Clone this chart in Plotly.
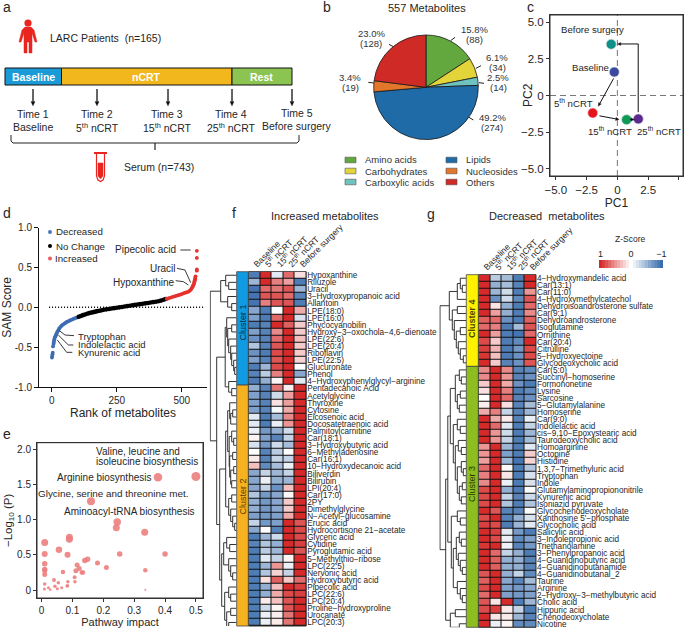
import math
import plotly.graph_objects as go

W, H = 685, 628
FONT = "Liberation Sans, Arial, sans-serif"
INK = "#262626"

# ---------- panel b ----------
PIE_LABELS = ["Amino acids", "Carbohydrates", "Carboxylic acids", "Lipids", "Nucleosides", "Others"]
PIE_VALUES = [88, 34, 14, 274, 19, 128]
PIE_COLORS = ["#62a83e", "#e3d43a", "#6fc2bf", "#1f6ba8", "#e2762a", "#cf2a26"]
PIE_PCT = ["15.8%", "6.1%", "2.5%", "49.2%", "3.4%", "23.0%"]
PIE_N = ["(88)", "(34)", "(14)", "(274)", "(19)", "(128)"]

# ---------- panel c ----------
PCA_NAMES = ["Baseline", "5th nCRT", "15th nCRT", "25th nCRT", "Before surgery"]
PC1 = [-0.25, -2.0, 0.75, 1.7, -0.5]
PC2 = [1.6, -1.2, -1.65, -1.6, 3.5]
PCA_COLORS = ["#3b4a9e", "#e8141c", "#0e9a55", "#5b2a8f", "#0e8f8a"]

# ---------- panel d ----------
DEC_RANK = [1, 2, 3, 4, 5, 7, 8, 9, 10, 12, 14, 16, 18, 20, 22, 25, 28, 30, 34, 38, 42, 46, 50, 55, 60, 65, 70, 75, 80, 85, 90, 95, 100]
DEC_SCORE = [-0.63, -0.61, -0.59, -0.57, -0.49, -0.46, -0.44, -0.42, -0.40, -0.38, -0.365, -0.35, -0.335, -0.32, -0.305, -0.29, -0.27, -0.26, -0.245, -0.23, -0.22, -0.21, -0.20, -0.19, -0.18, -0.172, -0.165, -0.157, -0.15, -0.142, -0.135, -0.13, -0.125]
NC_RANK = [104, 112, 120, 128, 136, 144, 152, 160, 168, 176, 184, 192, 200, 210, 220, 230, 240, 250, 260, 270, 280, 290, 300, 310, 320, 330, 340, 350, 360, 370, 380, 390, 400, 410, 420, 430, 438]
NC_SCORE = [-0.118, -0.108, -0.098, -0.09, -0.08, -0.072, -0.066, -0.06, -0.054, -0.047, -0.042, -0.036, -0.03, -0.025, -0.02, -0.015, -0.01, -0.005, 0.0, 0.005, 0.01, 0.016, 0.021, 0.026, 0.031, 0.036, 0.04, 0.045, 0.05, 0.055, 0.06, 0.066, 0.071, 0.077, 0.085, 0.095, 0.105]
INC_RANK = [442, 448, 454, 460, 466, 472, 478, 484, 490, 496, 502, 508, 514, 520, 526, 530, 534, 537, 540, 542, 544, 546, 548, 549, 550, 551, 552, 553, 558, 558, 558, 558]
INC_SCORE = [0.108, 0.113, 0.12, 0.126, 0.132, 0.138, 0.145, 0.15, 0.156, 0.162, 0.17, 0.178, 0.184, 0.19, 0.198, 0.207, 0.22, 0.232, 0.25, 0.262, 0.275, 0.29, 0.31, 0.325, 0.34, 0.355, 0.37, 0.39, 0.46, 0.475, 0.62, 0.71]

# ---------- panel e ----------
IMPACT = [0.5, 0.377, 0.16, 0.245, 0.242, 0.334, 0.09, 0.09, 0.01, 0.056, 0.01, 0.084, 0.253, 0.4, 0.01, 0.01, 0.01, 0.01, 0.149, 0.14, 0.181, 0.115, 0.21, 0.122, 0.111, 0.13, 0.134, 0.069, 0.336, 0.107, 0.04, 0.054, 0.085, 0.108, 0.01, 0.043, 0.084, 0.082, 0.065, 0.051, 0.022, 0.028, 0.009, 0.336]
LOGP = [1.61, 1.6, 1.26, 0.965, 0.885, 0.82, 0.75, 0.72, 0.675, 0.57, 0.51, 0.5, 0.51, 0.51, 0.373, 0.293, 0.275, 0.222, 0.435, 0.42, 0.383, 0.355, 0.32, 0.307, 0.274, 0.25, 0.25, 0.255, 0.279, 0.18, 0.142, 0.104, 0.118, 0.118, 0.085, 0.052, 0.06, 0.057, 0.033, 0.019, 0.033, 0.005, 0.014, 0.005]
DOT_SIZE = [9, 8.5, 8, 7.5, 7, 7, 7, 7, 7, 6.5, 6, 6, 5.5, 5.5, 5.5, 5.5, 5, 5, 5.5, 5.5, 5, 5, 5, 5, 5, 4.5, 4.5, 4.5, 4.5, 4, 4, 3.5, 3.5, 3.5, 3.5, 3.5, 3.5, 3, 3, 3, 3, 2.5, 3, 2]

# ---------- panels f, g ----------
HEAT_COLS = ["Baseline", "5<sup>th</sup> nCRT", "15<sup>th</sup> nCRT", "25<sup>th</sup> nCRT", "Before surgery"]
F_ROWS = ["Hypoxanthine", "Riluzole", "Uracil", "3−Hydroxypropanoic acid", "Allantoin", "LPE(18:0)", "LPE(16:0)", "Phycocyanobilin",
          "Hydroxy−3−oxochola−4,6−dienoate", "LPE(22:6)", "LPE(20:4)", "Riboflavin", "LPE(22:5)", "Glucuronate", "Phenol",
          "4−Hydroxyphenylglycyl−arginine", "Pentadecanoic Acid", "Acetylglycine", "Thyroxine", "Cytosine", "Eicosenoic acid",
          "Docosatetraenoic acid", "Palmitoylcarnitine", "Car(18:1)", "3−Hydroxybutyric acid", "6−Methyladenosine", "Car(16:1)",
          "10−Hydroxydecanoic acid", "Biliverdin", "Bilirubin", "LPI(20:4)", "Car(17:0)", "2PY", "Dimethylglycine",
          "N−Acetyl−glucosamine", "Erucic acid", "Hydrocortisone 21−acetate", "Glyceric acid", "Cytidine", "Pyroglutamic acid",
          "5−Methylthio−ribose", "LPC(22:5)", "Nervonic acid", "Hydroxybutyric acid", "Pipecolic acid", "LPC(22:6)", "LPC(20:4)",
          "Proline−hydroxyproline", "Urocanate", "LPC(20:3)"]
F_VALUES = [
    [-.9, 1, -.15, .7, .15], [-.5, 1, .6, .45, -.9], [-.95, .7, .65, .8, -.5], [-.95, .8, .8, .7, -.85], [-.95, .6, .8, .8, -.9],
    [-.6, -.9, 0, 1, .4], [-.65, -.9, .7, 1, -.2], [-.9, -.85, 1, .75, .25], [-.65, -.85, .55, 1, .25], [-.75, -.85, .7, 1, .3],
    [-.4, -.85, .8, 1, .25], [-.75, -.9, .85, 1, .25], [-.65, -.85, .8, 1, .2], [-.9, -.5, .85, 1, 0], [-.85, -.35, .6, 1, -.6],
    [-.9, -.55, .05, 1, -.15], [-.55, -.85, .65, .08, 1], [-.65, -.85, -.25, .45, 1], [-.65, -.85, .15, .45, 1], [-.65, -.85, -.05, .4, 1],
    [-.15, -.9, -.45, .55, 1], [-.15, -.9, -.1, .5, 1], [-.1, -.7, -.55, -.25, 1], [.05, -.65, -.85, -.3, 1], [-.2, -.7, -.25, -.45, 1],
    [0, -.85, -.35, 0, 1], [.1, -.85, -.3, -.3, 1], [.3, -.8, -.45, -.1, 1], [-.6, -.3, -.5, -.3, 1], [-.6, -.1, -.55, -.5, 1],
    [-.6, -.3, -.75, .3, 1], [-.4, -.7, -.6, .03, 1], [-.55, -.7, -.6, .25, 1], [-.55, -.7, -.6, .25, 1], [-.65, -.7, -.65, .4, 1],
    [-.3, -.7, -.65, 1, .8], [-.6, 0, -.85, 1, .85], [-.9, -.5, -.25, 1, .85], [-.85, -.4, -.55, 1, .9], [-.9, -.35, -.5, 1, .8],
    [-.9, -.15, -.3, .05, 1], [-.9, -.5, .5, -.1, 1], [-.9, -.4, .2, -.3, 1], [-.9, .15, .75, .25, .7], [-.9, -.55, .3, 1, .9],
    [-.9, -.55, .4, .85, .9], [-.9, .1, .3, .8, 1], [-.9, -.25, .05, .8, 1], [-.9, -.1, .08, .65, 1], [-.9, -.1, .1, .65, 1]]
G_ROWS = ["4−Hydroxymandelic acid", "Car(13:1)", "Car(11:0)", "4−Hydroxymethylcatechol", "Dehydroisoandrosterone sulfate", "Car(9:1)",
          "Dehydroandrosterone", "Isoglutamine", "Ornithine", "Car(20:4)", "Citrulline", "5−Hydroxyectoine", "Glycodeoxycholic acid",
          "Car(5:0)", "Succinyl−homoserine", "Formononetine", "Lysine", "Sarcosine", "5−Glutamylalanine", "Homoserine", "Car(9:0)",
          "Indolelactic acid", "cis−9,10−Epoxystearic acid", "Taurodeoxycholic acid", "Homoarginine", "Octopine", "Histidine",
          "1,3,7−Trimethyluric acid", "Tryptophan", "Indole", "Glutamylaminopropiononitrile", "Kynurenic acid", "Isoniazid pyruvate",
          "Glycochenodeoxycholate", "Xanthosine 5'−phosphate", "Glycocholic acid", "Salicylic acid", "3−Indolepropionic acid",
          "Triethanolamine", "3−Phenylpropanoic acid", "4−Guanidinobutyric acid", "4−Guanidinobutanamide", "4−Guanidinobutanal_2",
          "Taurine", "Arginine", "2−Hydroxy−3−methylbutyric acid", "Cholic acid", "Hippuric acid", "Chenodeoxycholate", "Nicotine"]
G_VALUES = [
    [1, -.35, -.45, -.9, 1], [1, -.55, -.45, -.85, 1], [1, -.5, -.25, -.9, .5], [1, -.75, -.25, -.8, .8], [1, .12, -.55, -.9, .7],
    [1, .45, -.55, -.9, .55], [.75, .7, -.75, -.9, .75], [.7, .6, -.9, -.45, .8], [1, .45, -.9, -.95, .7], [.85, .25, -.9, -.8, 1],
    [.9, .35, -.9, -.7, .85], [.95, .3, -.9, -.75, .85], [1, .25, -.85, -.75, .8], [.55, 1, .55, -.85, -.8], [.55, 1, .5, -.85, -.75],
    [.25, 1, .4, -.75, -.9], [.15, 1, .6, -.9, -.8], [0, 1, .7, -.85, -.75], [.08, 1, .15, -.85, -.45], [.4, .6, -.3, -.85, -.5],
    [1, .4, .1, -.85, -.1], [1, .7, -.15, -.9, -.3], [1, .5, -.25, -.9, -.5], [1, .5, -.3, -.9, -.45], [.5, 1, -.5, -.9, -.15],
    [.5, 1, -.65, -.9, .25], [.45, 1, -.5, -.95, .2], [.7, 1, .03, -.9, -.4], [.6, 1, .12, -.9, -.2], [.55, 1, -.1, -.9, -.2],
    [.85, 1, -.55, -.9, 0], [.85, 1, -.3, -.85, -.25], [.85, 1, -.4, -.9, -.4], [1, .8, -.85, -.85, -.03], [.85, 1, -.85, -.55, -.2],
    [.9, .85, -.9, -.5, -.15], [1, .9, -.15, -.7, -.9], [1, .85, -.1, -.8, -.65], [.95, 1, -.08, -.85, -.7], [1, .7, -.3, -.55, -.9],
    [1, .75, -.55, -.55, -.85], [1, .75, -.55, -.55, -.85], [.8, 1, -.55, -.3, -.8], [.75, 1, -.6, -.85, -.45], [.85, 1, -.65, -.7, -.6],
    [.7, 1, -.65, -.7, -.65], [.8, .12, 1, -.9, -.5], [.85, .9, .1, -.3, -.9], [1, .12, .1, -.5, -.85], [1, -.1, .05, -.8, -.8]]

# dendrograms: (height, child, child); 0 is a leaf
F_TREE = (26.5,
          (16, (11, 0, (8, 0, 0)), (9, 0, (5, 0, 0))),
          (20,
           (11.5, (10, 0, (9, (5, 0, 0), (8, 0, (6, 0, (5, 0, (3, 0, (2, 0, 0))))))), (8, 0, (5, 0, 0))),
           (17,
            (11, (9, (7, 0, (6, (4, 0, 0), 0)), (7.5, (5, 0, (3, 0, 0)), (7, (4, 0, 0), (6, (3, 0, 0), (5, 0, 0))))),
             (8, (5, 0, 0), (6, 0, (4, 0, (2, 0, 0))))),
            (15, (13, (10, 0, (7, 0, 0)), (8, 0, (6, 0, (4, 0, 0)))),
             (12, (8, 0, (6, 0, 0)), (10, (6, 0, 0), (8, 0, (5, 0, (3, 0, 0)))))))))
G_TREE = (26.3,
          (17, (9, (6, 0, (4, 0, 0)), 0),
           (14, (9, 0, 0), (12, 0, (10, (6, 0, 0), (8, 0, (6, 0, (3, 0, 0))))))),
          (20.6,
           (18.5,
            (16, (11, (7, 0, (5, 0, 0)), (9, (6, 0, 0), (7, 0, 0))),
             (13, (9, 0, (6, 0, 0)), (11, (8, 0, (5, 0, 0)), (9, (5, 0, (3, 0, 0)), (7, (4, 0, 0), (5, 0, 0)))))),
            (15, (9, 0, (6, 0, 0)),
             (13, (10, (7, 0, (5, 0, 0)), (8, 0, (6, 0, (4, 0, 0)))), (9, 0, (6, 0, (4, 0, 0)))))),
           (16, (11, 0, 0), (7, 0, 0))))
ZSCORE_TICKS = [1, 0, -1]
ZSCORE_STEPS = [1, .9, .8, .7, .6, .5, .4, .3, .2, .1, 0, -.1, -.2, -.3, -.4, -.5, -.6, -.7, -.8, -.9, -1]
HEAT_SCALE = [[0, "#3a6dad"], [0.5, "#ffffff"], [1, "#d62a2a"]]

# ---------- helpers ----------
X = lambda x: x / W
Y = lambda y: 1 - y / H
DX = lambda a, b: [a / W, b / W]
DY = lambda top, bottom: [1 - bottom / H, 1 - top / H]
CX = lambda v: 617.3 + 12.3 * v
CY = lambda v: 95.3 - 14.67 * v
shapes, notes = [], []


def text(x, y, s, size=9, anchor="center", angle=0, color=INK, bold=False):
    notes.append(dict(x=X(x), y=Y(y), xref="paper", yref="paper", text=f"<b>{s}</b>" if bold else s, showarrow=False,
                      xanchor=anchor, yanchor="middle", textangle=angle, align="center",
                      font=dict(size=size, color=color, family=FONT)))


def rect(x0, y0, x1, y1, fill, line="#111111", width=1, layer="above"):
    shapes.append(dict(type="rect", xref="paper", yref="paper", x0=X(x0), x1=X(x1), y0=Y(y0), y1=Y(y1),
                       fillcolor=fill, line=dict(color=line, width=width), layer=layer))


def poly(points, color=INK, width=1, fill=None, close=False):
    d = "M" + " L".join(f"{X(a):.5f},{Y(b):.5f}" for a, b in points) + (" Z" if close else "")
    s = dict(type="path", xref="paper", yref="paper", path=d, line=dict(color=color, width=width))
    if fill:
        s["fillcolor"] = fill
    shapes.append(s)


def arrow(x0, y0, x1, y1, width=1.3, head=4.5):
    length = math.hypot(x1 - x0, y1 - y0)
    ux, uy = (x1 - x0) / length, (y1 - y0) / length
    bx, by = x1 - ux * head, y1 - uy * head
    half = head * 0.45
    poly([(x0, y0), (bx, by)], "#111111", width)
    poly([(x1, y1), (bx - uy * half, by + ux * half), (bx + uy * half, by - ux * half)], "#111111", 0.3, fill="#111111", close=True)


def tree_lines(node):
    xs, ys = [], []
    row = [0]

    def walk(n):
        if n == 0:
            row[0] += 1
            return row[0] - 1, 0
        h, a, b = n
        ya, ha = walk(a)
        yb, hb = walk(b)
        xs.extend([ha, h, h, hb, None])
        ys.extend([ya, ya, yb, yb, None])
        return (ya + yb) / 2, h

    walk(node)
    return xs, ys


fig = go.Figure()

# ---------- panel a ----------
text(7, 7, "a", 14)
poly([(19, 42), (22, 30), (25, 27), (31, 27), (34, 30), (37, 42), (35, 42), (32, 33), (32, 53), (29, 53), (29, 42), (27, 42),
      (27, 53), (24, 53), (24, 33), (21, 42)], color="#e8251f", width=0.5, fill="#e8251f", close=True)
shapes.append(dict(type="circle", xref="paper", yref="paper", x0=X(24.4), x1=X(31.6), y0=Y(19.4), y1=Y(26.6),
                   fillcolor="#e8251f", line=dict(width=0)))
text(48, 38, "LARC Patients  (n=165)", 10.5, "left")
rect(5, 68, 61.5, 85, "#1a9bd7")
rect(61.5, 68, 232, 85, "#f2b71d")
rect(232, 68, 292, 85, "#8cc452")
text(33, 77, "Baseline", 10.5, color="white", bold=True)
text(146, 77, "nCRT", 10.5, color="white", bold=True)
text(261, 77, "Rest", 10.5, color="white", bold=True)
for ax_x in [33, 97, 168, 232, 292]:
    arrow(ax_x, 89, ax_x, 106)
for cx, a, b, dy in [(33, "Time 1", "Baseline", 0), (97, "Time 2", "5<sup>th</sup> nCRT", 0), (167, "Time 3", "15<sup>th</sup> nCRT", 0),
                     (231, "Time 4", "25<sup>th</sup> nCRT", 0), (297, "Time 5", "Before surgery", -1)]:
    text(cx, 114 + dy, a, 10.5)
    text(cx, 127 + dy, b, 10.5)
poly([(11, 135), (11, 141), (13, 143), (297, 143), (299, 141), (299, 135)], "#222222", 1)
poly([(155, 143), (155, 150)], "#222222", 1.2)
text(122, 167, "Serum (n=743)", 10.5, "left")
poly([(94, 153), (107, 153)], "#e8251f", 2)
poly([(96.5, 153), (96.5, 176), (98, 180), (100.5, 181.5), (103, 180), (104.5, 176), (104.5, 153)], "#e8251f", 1.2)
poly([(98, 163), (103, 163), (103, 176), (100.5, 179), (98, 176)], "#e8251f", 0.5, fill="#e8251f", close=True)

# ---------- panel b ----------
text(327, 7, "b", 14)
text(427, 8, "557 Metabolites", 11)
fig.add_trace(go.Pie(labels=PIE_LABELS, values=PIE_VALUES, sort=False, direction="clockwise", rotation=0, textinfo="none",
                     marker=dict(colors=PIE_COLORS, line=dict(color="#1a1a1a", width=0.8)), showlegend=False, hoverinfo="label+percent",
                     domain=dict(x=DX(426 - 52.3, 426 + 52.3), y=DY(87.3 - 52.3, 87.3 + 52.3))))
for (cx, cy), a, b in zip([(474, 34), (497, 62), (498, 83), (492, 122), (350, 82), (371, 38)], PIE_PCT, PIE_N):
    text(cx, cy - 5, a, 9.5, color="#333333")
    text(cx, cy + 5, b, 9.5, color="#333333")
for a, b, c, d in [(392, 122, 405, 112), (468, 205, 483, 197), (477, 248, 492, 250), (447, 352, 460, 360), (145, 247, 162, 249), (207, 133, 220, 140)]:
    poly([(320 + a / 3, b / 3), (320 + c / 3, d / 3)], "#222222", 1)
for i, (lab, col) in enumerate(zip(PIE_LABELS, PIE_COLORS)):
    col_x = 345 if i < 3 else 446
    row_y = [160, 171, 182][i % 3]
    rect(col_x, row_y - 2.8, col_x + 11, row_y + 2.8, col, "#555555", 0.6)
    text(col_x + 18, row_y, lab, 9.5, "left", color="#333333")

# ---------- panel c ----------
text(530, 7, "c", 14)
rect(550, 15, 683, 176, "rgba(0,0,0,0)", "#333333", 1)
for i in range(5):
    fig.add_trace(go.Scatter(x=[PC1[i]], y=[PC2[i]], mode="markers", name=PCA_NAMES[i], showlegend=False, xaxis="x", yaxis="y",
                             marker=dict(size=10, color=PCA_COLORS[i], line=dict(color="#dddddd", width=0.7))))
poly([(CX(1.7), CY(-1.15)), (CX(1.7), CY(3.5))], "#111111", 1)
for (x0, y0, x1, y1) in [(1.7, 3.5, 0.0, 3.5), (-0.3, 1.15, -1.55, -0.75), (-1.45, -1.4, 0.15, -1.65), (1.05, -1.65, 1.4, -1.65)]:
    arrow(CX(x0), CY(y0), CX(x1), CY(y1), width=1, head=3.5)
text(592, 30, "Before surgery", 9.6)
text(590, 68, "Baseline", 9.6)
text(573, 103, "5<sup>th</sup> nCRT", 9.6)
text(610, 131, "15<sup>th</sup> nCRT", 9.6)
text(659, 131, "25<sup>th</sup> nCRT", 9.6)
text(528, 95, "PC2", 12, angle=-90)

# ---------- panel d ----------
text(7, 213, "d", 14)
fig.add_trace(go.Scatter(x=[-10, 590], y=[0, 0], mode="lines", line=dict(color="#000000", width=1.5, dash="1px,2px"), xaxis="x2", yaxis="y2",
                         showlegend=False, hoverinfo="skip"))
for name, xs, ys, col, sz in [("Decreased", DEC_RANK, DEC_SCORE, "#3d6cb3", 3.8), ("No Change", NC_RANK, NC_SCORE, "#000000", 4.6), ("Increased", INC_RANK, INC_SCORE, "#e5322e", 3.8)]:
    fig.add_trace(go.Scatter(x=xs, y=ys, mode="markers", name=name, marker=dict(size=sz, color=col), showlegend=False, xaxis="x2", yaxis="y2"))
for y0, lab, col, lx in [(232, "Decreased", "#4d79bb", 54.3), (246, "No Change", "#000000", 54.3), (258.5, "Increased", "#ee5a5a", 53.3)]:
    shapes.append(dict(type="circle", xref="paper", yref="paper", x0=X(48), x1=X(52), y0=Y(y0 - 2), y1=Y(y0 + 2), fillcolor=col, line=dict(width=0)))
    text(lx, y0, lab, 9.7, "left")
text(145, 249.5, "Pipecolic acid", 10)
text(163, 268.5, "Uracil", 10)
text(144, 282, "Hypoxanthine", 10)
text(76, 336, "Tryptophan", 9.5, "left")
text(76, 344, "Indolelactic acid", 9.5, "left")
text(76, 352, "Kynurenic acid", 9.5, "left")
for seg in [[(541, 150), (572, 150)], [(531, 205), (555, 210), (572, 248)], [(527, 242), (550, 245), (565, 255)],
            [(222, 407), (195, 405), (178, 392)], [(220, 435), (205, 435), (175, 405)], [(217, 457), (200, 457), (172, 420)]]:
    poly([(a / 3, 200 + b / 3) for a, b in seg], "#222222", 0.9)

# ---------- panel e ----------
text(7, 434, "e", 14)
rect(37, 442.7, 203, 598, "rgba(0,0,0,0)", "#333333", 1)
fig.add_trace(go.Scatter(x=IMPACT, y=LOGP, mode="markers", showlegend=False, xaxis="x3", yaxis="y3", name="Pathways",
                         marker=dict(size=DOT_SIZE, color="#ec8080", opacity=0.9, line=dict(width=0))))
text(94, 451, "Valine, leucine and", 10, "left")
text(94, 462, "isoleucine biosynthesis", 10, "left")
text(104, 477, "Arginine biosynthesis", 10)
text(113, 493, "Glycine, serine and threonine met.", 9.9)
text(129, 511, "Aminoacyl-tRNA biosynthesis", 10)

# ---------- panels f, g ----------
text(234, 213, "f", 14)
text(431, 214, "g", 14)
text(325, 216, "Increased metabolites", 11)
text(547, 216, "Decreased  metabolites", 11)
F_BOX = (248.5, 271.7, 306.2, 626)
G_BOX = (478.5, 274.7, 536, 627.3)
rect(F_BOX[0], F_BOX[1], F_BOX[2], F_BOX[3], "#111111", "#333333", 1, layer="below")
rect(G_BOX[0], G_BOX[1], G_BOX[2], G_BOX[3], "#111111", "#333333", 1, layer="below")
for rows, vals, ax_x, ax_y in [(F_ROWS, F_VALUES, "x4", "y4"), (G_ROWS, G_VALUES, "x6", "y6")]:
    fig.add_trace(go.Heatmap(z=vals, x=HEAT_COLS, y=rows, colorscale=HEAT_SCALE, zmin=-1, zmax=1, showscale=False, xgap=1, ygap=1,
                             xaxis=ax_x, yaxis=ax_y))
for tree, ax_x, ax_y in [(F_TREE, "x5", "y5"), (G_TREE, "x7", "y7")]:
    tx, ty = tree_lines(tree)
    fig.add_trace(go.Scatter(x=tx, y=ty, mode="lines", line=dict(color="#333333", width=1), showlegend=False, hoverinfo="skip", xaxis=ax_x, yaxis=ax_y))
row_f = (F_BOX[3] - F_BOX[1]) / len(F_ROWS)
row_g = (G_BOX[3] - G_BOX[1]) / len(G_ROWS)
rect(236.7, F_BOX[1], 248.3, F_BOX[1] + 16 * row_f, "#109ae2", "#444444", 0.8)
rect(236.7, F_BOX[1] + 16 * row_f, 248.3, F_BOX[3], "#f6b120", "#444444", 0.8)
rect(466.3, G_BOX[1], 478.3, G_BOX[1] + 13 * row_g, "#fff200", "#444444", 0.8)
rect(466.3, G_BOX[1] + 13 * row_g, 478.3, G_BOX[3], "#8dbd1e", "#444444", 0.8)
text(242.5, 323, "Cluster 1", 9, angle=-90, color="#0a2a4a")
text(242.5, 497, "Cluster 2", 9, angle=-90, color="#5a3c00")
text(472, 319, "Cluster 4", 9, angle=-90, color="#4a4400", bold=True)
text(472, 484, "Cluster 3", 9, angle=-90, color="#243a00")

# z-score bar
text(630, 239, "Z-Score", 8.5)
fig.add_trace(go.Heatmap(z=[ZSCORE_STEPS], x=ZSCORE_STEPS, y=["Z"], colorscale=HEAT_SCALE, zmin=-1, zmax=1, showscale=False,
                         xaxis="x8", yaxis="y8", hoverinfo="skip"))

tick = dict(size=10, color=INK, family=FONT)
big_tick = dict(size=11.5, color=INK, family=FONT)
frame = dict(showline=True, linecolor="#333333", linewidth=1, mirror=True, showgrid=False, zeroline=False, ticks="outside", ticklen=3,
             tickcolor="#333333")
open_axis = dict(showline=True, linecolor="#111111", linewidth=1, showgrid=False, zeroline=False, ticks="outside", ticklen=4,
                 tickcolor="#111111", tickfont=tick)
hidden = dict(visible=False, showgrid=False, zeroline=False)
heat_x = dict(side="top", tickangle=-45, ticks="", showgrid=False, zeroline=False, tickfont=dict(size=8.6, color=INK, family=FONT), showline=False)
heat_y = dict(side="right", autorange="reversed", ticks="", showgrid=False, zeroline=False, tickfont=dict(size=8.2, color=INK, family=FONT),
              showline=False, dtick=1)

fig.update_layout(
    width=W, height=H, margin=dict(l=0, r=0, t=0, b=0), autosize=False, template="none",
    paper_bgcolor="white", plot_bgcolor="white", font=dict(family=FONT, color=INK), showlegend=False,
    shapes=shapes, annotations=notes,
    xaxis=dict(frame, tickfont=big_tick, domain=DX(550, 683), range=[-5.47, 5.33], tickvals=[-5, -2.5, 0, 2.5, 5], ticktext=["−5.0", "−2.5", "0", "2.5", "5.0"],
               title=dict(text="PC1", font=dict(size=12), standoff=3)),
    yaxis=dict(frame, tickfont=big_tick, domain=DY(15, 176), range=[-5.5, 5.5], tickvals=[-5, -2.5, 0, 2.5, 5], ticktext=["−5.0", "−2.5", "0", "2.5", "5.0"]),
    xaxis2=dict(open_axis, domain=DX(39, 207), range=[-48.8, 597], tickvals=[0, 250, 500], anchor="y2",
                title=dict(text="Rank of metabolites", font=dict(size=12), standoff=3)),
    yaxis2=dict(open_axis, domain=DY(227.7, 387), range=[-1, 1], tickvals=[-1, -.5, 0, .5, 1], ticktext=["-1.0", "-0.5", "0.0", "0.5", "1.0"], anchor="x2",
                title=dict(text="SAM Score", font=dict(size=12), standoff=2)),
    xaxis3=dict(frame, tickfont=tick, domain=DX(37, 203), range=[-0.015, 0.523], tickvals=[0, .1, .2, .3, .4, .5], ticktext=["0", "0.1", "0.2", "0.3", "0.4", "0.5"], anchor="y3",
                title=dict(text="Pathway impact", font=dict(size=11), standoff=4)),
    yaxis3=dict(frame, tickfont=tick, domain=DY(442.7, 598), range=[-0.113, 2.09], tickvals=[0, .5, 1, 1.5, 2], ticktext=["0", "0.5", "1.0", "1.5", "2.0"], anchor="x3",
                title=dict(text="−Log<sub>10</sub> (P)", font=dict(size=11.5), standoff=2)),
    xaxis4=dict(heat_x, domain=DX(F_BOX[0], F_BOX[2]), anchor="y4"),
    yaxis4=dict(heat_y, domain=DY(F_BOX[1], F_BOX[3]), anchor="x4"),
    xaxis5=dict(hidden, domain=DX(236.7 - 27, 236.7), range=[27, 0], anchor="y5"),
    yaxis5=dict(hidden, domain=DY(F_BOX[1], F_BOX[3]), range=[49.5, -0.5], anchor="x5"),
    xaxis6=dict(heat_x, domain=DX(G_BOX[0], G_BOX[2]), anchor="y6"),
    yaxis6=dict(heat_y, domain=DY(G_BOX[1], G_BOX[3]), anchor="x6"),
    xaxis7=dict(hidden, domain=DX(466.3 - 27, 466.3), range=[27, 0], anchor="y7"),
    yaxis7=dict(hidden, domain=DY(G_BOX[1], G_BOX[3]), range=[49.5, -0.5], anchor="x7"),
    xaxis8=dict(domain=DX(599, 663), range=[1.05, -1.05], side="top", tickvals=ZSCORE_TICKS, ticktext=["1", "0", "−1"], ticks="", showgrid=False,
                zeroline=False, showline=False, anchor="y8", tickfont=dict(size=9, color=INK, family=FONT)),
    yaxis8=dict(hidden, domain=DY(260, 268), anchor="x8"),
)
fig.add_shape(type="line", xref="x", yref="y", x0=0, x1=0, y0=-5.5, y1=5.5, line=dict(color="#777777", width=1, dash="6px,4px"), layer="below")
fig.add_shape(type="line", xref="x", yref="y", x0=-5.47, x1=5.33, y0=0, y1=0, line=dict(color="#777777", width=1, dash="6px,4px"), layer="below")

fig.write_html("out.html", config=dict(displayModeBar=False), post_script="document.body.style.margin='0';")
